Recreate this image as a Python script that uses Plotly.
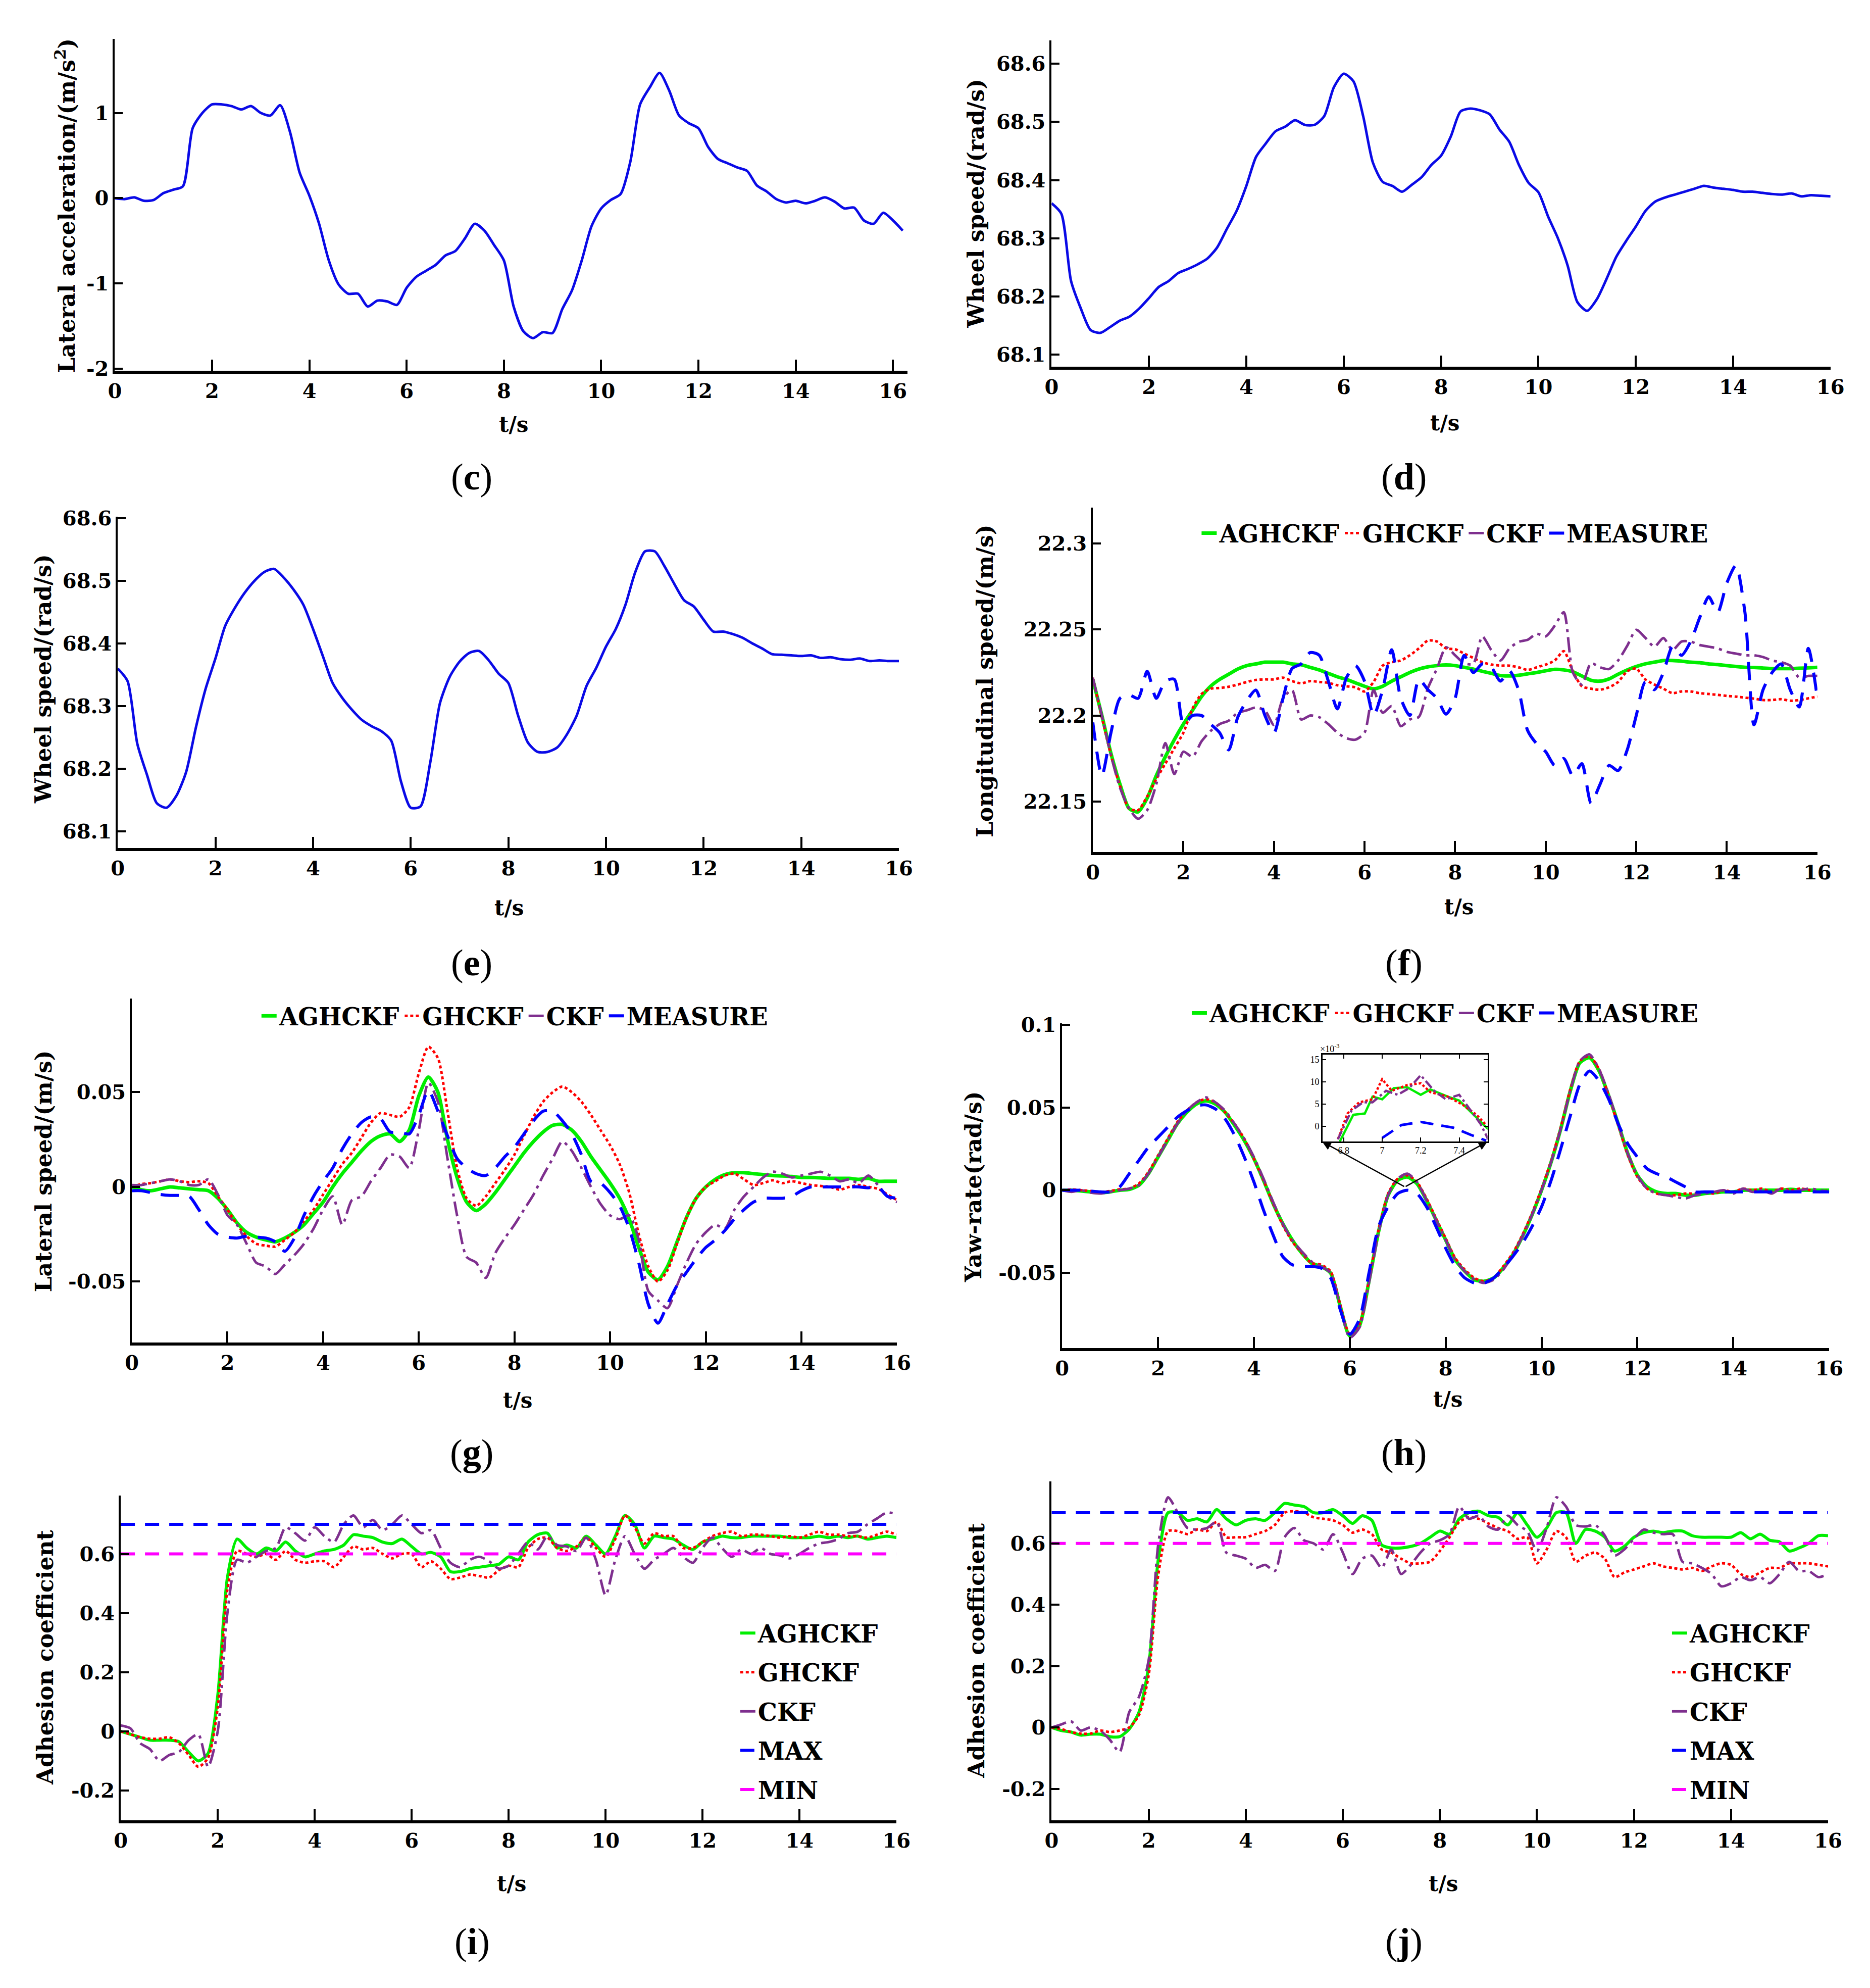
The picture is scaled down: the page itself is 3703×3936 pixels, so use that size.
import numpy as np
import plotly.graph_objects as go

# time grid (0.2 s steps)
t = np.round(np.arange(0, 16.01, 0.2), 1)
t_c = np.round(np.arange(0, 16.21, 0.2), 1)

# (c) lateral acceleration
acc_c = [0.0, -0.01, 0.01, -0.03, -0.02, 0.06, 0.1, 0.14, 0.82, 1.0,
         1.1, 1.1, 1.08, 1.04, 1.08, 1.0, 0.97, 1.09, 0.78, 0.3,
         0.03, -0.3, -0.73, -1.01, -1.12, -1.12, -1.27, -1.2, -1.21, -1.25,
         -1.05, -0.92, -0.85, -0.78, -0.67, -0.62, -0.47, -0.3, -0.38, -0.55,
         -0.73, -1.27, -1.56, -1.64, -1.57, -1.58, -1.3, -1.08, -0.73, -0.33,
         -0.12, -0.02, 0.05, 0.43, 1.1, 1.3, 1.47, 1.26, 0.97, 0.88,
         0.82, 0.6, 0.46, 0.41, 0.36, 0.32, 0.15, 0.08, -0.01, -0.05,
         -0.03, -0.06, -0.03, 0.01, -0.04, -0.12, -0.11, -0.26, -0.3, -0.17,
         -0.26, -0.38]

# (d) wheel speed
wheel_d = [68.36, 68.342, 68.226, 68.179, 68.142, 68.137, 68.147, 68.158, 68.165, 68.179,
           68.197, 68.216, 68.226, 68.24, 68.247, 68.255, 68.265, 68.284, 68.316, 68.347,
           68.39, 68.44, 68.463, 68.484, 68.492, 68.503, 68.495, 68.495, 68.51, 68.56,
           68.583, 68.57, 68.51, 68.43, 68.397, 68.39, 68.38, 68.392, 68.405, 68.426,
           68.442, 68.475, 68.518, 68.523, 68.52, 68.513, 68.487, 68.466, 68.426, 68.395,
           68.379, 68.337, 68.3, 68.253, 68.19, 68.175, 68.195, 68.23, 68.268, 68.295,
           68.32, 68.347, 68.363, 68.37, 68.375, 68.38, 68.385, 68.39, 68.387, 68.385,
           68.383, 68.38, 68.38, 68.378, 68.376, 68.375, 68.377, 68.372, 68.374, 68.373,
           68.372]

# (e) wheel speed
wheel_e = [68.36, 68.34, 68.24, 68.19, 68.145, 68.138, 68.157, 68.195, 68.266, 68.328,
           68.376, 68.428, 68.457, 68.481, 68.5, 68.514, 68.519, 68.505, 68.486, 68.462,
           68.423, 68.38, 68.337, 68.313, 68.294, 68.278, 68.268, 68.26, 68.245, 68.18,
           68.138, 68.14, 68.21, 68.305, 68.347, 68.371, 68.385, 68.388, 68.373, 68.352,
           68.337, 68.285, 68.242, 68.227, 68.227, 68.234, 68.255, 68.285, 68.332, 68.361,
           68.395, 68.423, 68.462, 68.514, 68.547, 68.547, 68.523, 68.495, 68.469, 68.459,
           68.438, 68.419, 68.419, 68.415, 68.409, 68.4, 68.392, 68.383, 68.382, 68.381,
           68.38, 68.381, 68.377, 68.378, 68.375, 68.374, 68.376, 68.372, 68.373, 68.372,
           68.372]

# (f) longitudinal speed
vx_agh = [22.221, 22.200, 22.178, 22.160, 22.146, 22.144, 22.152, 22.165, 22.176, 22.186,
          22.195, 22.203, 22.211, 22.217, 22.221, 22.224, 22.227, 22.229, 22.230, 22.231,
          22.231, 22.231, 22.230, 22.2295, 22.228, 22.2265, 22.2245, 22.2225, 22.221, 22.219,
          22.217, 22.2155, 22.217, 22.220, 22.2225, 22.225, 22.227, 22.2283, 22.229, 22.2294,
          22.229, 22.228, 22.227, 22.2257, 22.2245, 22.2232, 22.223, 22.2234, 22.2242, 22.225,
          22.226, 22.2268, 22.2265, 22.2254, 22.223, 22.2205, 22.220, 22.2213, 22.224, 22.2265,
          22.2285, 22.230, 22.231, 22.232, 22.232, 22.2316, 22.231, 22.2307, 22.230, 22.2296,
          22.229, 22.2285, 22.228, 22.2279, 22.2276, 22.2273, 22.2273, 22.2273, 22.2275, 22.2277,
          22.228]
vx_gh = [22.222, 22.199, 22.177, 22.159, 22.146, 22.145, 22.153, 22.163, 22.172, 22.181,
         22.190, 22.204, 22.2125, 22.2156, 22.216, 22.2167, 22.218, 22.2195, 22.2207, 22.221,
         22.221, 22.222, 22.220, 22.2187, 22.220, 22.2195, 22.219, 22.2176, 22.217, 22.2164,
         22.214, 22.2195, 22.229, 22.231, 22.232, 22.235, 22.239, 22.2436, 22.243, 22.239,
         22.2385, 22.236, 22.2335, 22.231, 22.2296, 22.229, 22.229, 22.228, 22.2265, 22.228,
         22.2296, 22.232, 22.2374, 22.2257, 22.217, 22.2156, 22.215, 22.2164, 22.2195, 22.2257,
         22.2273, 22.221, 22.218, 22.2156, 22.213, 22.214, 22.214, 22.213, 22.2125, 22.212,
         22.2114, 22.211, 22.2104, 22.2098, 22.209, 22.209, 22.2095, 22.2086, 22.209, 22.210,
         22.211]
vx_ckf = [22.222, 22.200, 22.177, 22.158, 22.146, 22.140, 22.145, 22.160, 22.184, 22.166,
          22.179, 22.176, 22.185, 22.191, 22.195, 22.197, 22.2016, 22.203, 22.2047, 22.203,
          22.1945, 22.210, 22.2148, 22.1977, 22.200, 22.199, 22.195, 22.190, 22.1868, 22.186,
          22.190, 22.2148, 22.2016, 22.2055, 22.1938, 22.1977, 22.1992, 22.216, 22.2273, 22.2397,
          22.235, 22.2304, 22.230, 22.246, 22.238, 22.232, 22.239, 22.2428, 22.244, 22.2475,
          22.246, 22.2522, 22.260, 22.225, 22.218, 22.2304, 22.228, 22.227, 22.232, 22.2405,
          22.2498, 22.2452, 22.240, 22.245, 22.238, 22.243, 22.243, 22.241, 22.240, 22.239,
          22.237, 22.236, 22.235, 22.235, 22.234, 22.232, 22.231, 22.229, 22.222, 22.223,
          22.223]
vx_meas = [22.196, 22.165, 22.190, 22.210, 22.212, 22.210, 22.2257, 22.210, 22.220, 22.221,
           22.195, 22.200, 22.200, 22.195, 22.190, 22.180, 22.199, 22.2086, 22.2148, 22.200,
           22.190, 22.210, 22.2273, 22.230, 22.2366, 22.235, 22.220, 22.2039, 22.222, 22.229,
           22.220, 22.200, 22.215, 22.2382, 22.210, 22.200, 22.221, 22.215, 22.210, 22.2008,
           22.210, 22.235, 22.225, 22.230, 22.228, 22.220, 22.226, 22.215, 22.1914, 22.1836,
           22.179, 22.171, 22.175, 22.165, 22.172, 22.149, 22.160, 22.171, 22.168, 22.180,
           22.200, 22.2195, 22.215, 22.225, 22.240, 22.235, 22.243, 22.2568, 22.269, 22.260,
           22.277, 22.2872, 22.260, 22.1946, 22.215, 22.225, 22.230, 22.215, 22.205, 22.239,
           22.210]

# (g) lateral speed
vy_agh = [0.0, -0.0015, -0.002, -0.001, 0.0, -0.0005, -0.001, -0.0015, -0.002, -0.006,
          -0.012, -0.019, -0.024, -0.0265, -0.028, -0.029, -0.027, -0.024, -0.020, -0.014,
          -0.008, 0.0, 0.007, 0.013, 0.019, 0.024, 0.027, 0.028, 0.024, 0.030,
          0.048, 0.058, 0.050, 0.025, 0.005, -0.008, -0.0125, -0.009, -0.003, 0.004,
          0.011, 0.018, 0.024, 0.029, 0.0325, 0.033, 0.030, 0.024, 0.016, 0.009,
          0.002, -0.006, -0.017, -0.032, -0.045, -0.049, -0.042, -0.029, -0.016, -0.006,
          0.0, 0.004, 0.0065, 0.0075, 0.0075, 0.007, 0.0065, 0.006, 0.0058, 0.0055,
          0.005, 0.005, 0.0048, 0.0045, 0.0045, 0.0045, 0.004, 0.0045, 0.003, 0.003,
          0.003]
vy_gh = [0.0, 0.0015, 0.002, 0.003, 0.004, 0.003, 0.0025, 0.003, 0.002, -0.005,
         -0.012, -0.020, -0.026, -0.030, -0.031, -0.0315, -0.028, -0.024, -0.018, -0.012,
         -0.004, 0.004, 0.012, 0.018, 0.026, 0.034, 0.039, 0.038, 0.037, 0.042,
         0.060, 0.074, 0.068, 0.040, 0.010, -0.006, -0.010, -0.005, 0.002, 0.009,
         0.017, 0.027, 0.037, 0.045, 0.050, 0.053, 0.050, 0.045, 0.038, 0.030,
         0.022, 0.012, -0.003, -0.025, -0.042, -0.050, -0.044, -0.030, -0.016, -0.006,
         0.0, 0.003, 0.006, 0.007, 0.004, 0.001, 0.002, 0.0035, 0.002, 0.003,
         0.002, 0.001, 0.0005, 0.0, -0.0015, 0.0, 0.001, 0.0, -0.001, -0.004,
         -0.007]
vy_ckf = [0.001, 0.001, 0.002, 0.003, 0.004, 0.003, 0.001, 0.001, 0.004, -0.004,
          -0.015, -0.020, -0.030, -0.040, -0.042, -0.046, -0.041, -0.036, -0.030, -0.022,
          -0.012, -0.005, -0.020, -0.007, -0.005, 0.003, 0.010, 0.017, 0.016, 0.010,
          0.030, 0.055, 0.045, 0.015, -0.015, -0.037, -0.040, -0.048, -0.035, -0.027,
          -0.020, -0.012, -0.004, 0.006, 0.015, 0.024, 0.019, 0.010, 0.0, -0.009,
          -0.015, -0.017, -0.015, -0.028, -0.055, -0.060, -0.064, -0.052, -0.040, -0.030,
          -0.024, -0.020, -0.022, -0.012, -0.005, 0.0, 0.005, 0.008, 0.007, 0.005,
          0.006, 0.007, 0.008, 0.006, 0.003, 0.004, 0.002, 0.006, 0.001, -0.005,
          -0.008]
vy_meas = [-0.002, -0.002, -0.003, -0.004, -0.0045, -0.0045, -0.005, -0.012, -0.020, -0.025,
           -0.0265, -0.027, -0.026, -0.0265, -0.027, -0.029, -0.034, -0.027, -0.015, -0.005,
           0.003, 0.010, 0.020, 0.028, 0.034, 0.037, 0.036, 0.029, 0.029, 0.028,
           0.038, 0.051, 0.040, 0.027, 0.015, 0.010, 0.007, 0.006, 0.010, 0.016,
           0.021, 0.028, 0.035, 0.040, 0.040, 0.035, 0.028, 0.017, 0.003, 0.002,
           -0.003, -0.010, -0.022, -0.040, -0.062, -0.072, -0.062, -0.052, -0.045, -0.038,
           -0.032, -0.028, -0.023, -0.017, -0.012, -0.008, -0.006, -0.006, -0.006, -0.005,
           -0.002, 0.0, 0.0, 0.0, 0.0, 0.0, 0.0, -0.0005, 0.0, -0.005,
           -0.006]

# (h) yaw rate
yaw_agh = [0.0, 0.0, -0.0005, -0.001, -0.0015, -0.001, 0.0, 0.0005, 0.003, 0.010,
           0.020, 0.030, 0.040, 0.047, 0.052, 0.054, 0.052, 0.047, 0.039, 0.030,
           0.019, 0.006, -0.008, -0.020, -0.030, -0.038, -0.044, -0.046, -0.050, -0.070,
           -0.088, -0.082, -0.055, -0.025, -0.003, 0.006, 0.008, 0.004, -0.006, -0.018,
           -0.030, -0.042, -0.049, -0.054, -0.055, -0.053, -0.047, -0.039, -0.028, -0.015,
           0.0, 0.017, 0.037, 0.060, 0.077, 0.080, 0.072, 0.057, 0.040, 0.022,
           0.009, 0.002, -0.001, -0.002, -0.002, -0.003, -0.003, -0.002, -0.0015, -0.001,
           -0.001, 0.0, 0.0, 0.0, 0.0, 0.0, 0.0005, 0.0, 0.0, 0.0,
           0.0]
yaw_gh = [0.0, 0.0005, 0.0, -0.0005, -0.001, -0.0005, 0.0005, 0.001, 0.004, 0.011,
          0.021, 0.031, 0.041, 0.048, 0.053, 0.055, 0.053, 0.047, 0.040, 0.031,
          0.019, 0.006, -0.008, -0.021, -0.031, -0.038, -0.044, -0.045, -0.049, -0.069,
          -0.087, -0.081, -0.054, -0.024, -0.002, 0.007, 0.009, 0.005, -0.005, -0.017,
          -0.029, -0.041, -0.048, -0.053, -0.055, -0.053, -0.046, -0.038, -0.027, -0.014,
          0.001, 0.018, 0.038, 0.061, 0.078, 0.081, 0.073, 0.057, 0.039, 0.021,
          0.008, 0.001, -0.002, -0.003, -0.003, -0.002, -0.002, -0.001, -0.002, 0.0,
          -0.001, 0.001, 0.0, 0.001, -0.001, 0.001, 0.0, 0.001, 0.0, -0.001,
          0.0]
yaw_ckf = [0.0, -0.001, 0.0, -0.0015, -0.002, -0.001, 0.0, 0.001, 0.003, 0.010,
           0.020, 0.030, 0.040, 0.048, 0.053, 0.056, 0.053, 0.048, 0.040, 0.031,
           0.020, 0.007, -0.007, -0.020, -0.030, -0.037, -0.043, -0.046, -0.050, -0.070,
           -0.089, -0.083, -0.056, -0.026, -0.003, 0.007, 0.010, 0.005, -0.006, -0.018,
           -0.030, -0.042, -0.049, -0.054, -0.056, -0.054, -0.048, -0.039, -0.028, -0.015,
           0.0, 0.017, 0.037, 0.060, 0.078, 0.082, 0.073, 0.058, 0.040, 0.022,
           0.009, 0.001, -0.002, -0.003, -0.004, -0.005, -0.003, -0.002, -0.001, 0.0,
           -0.002, 0.001, -0.001, 0.0, -0.002, 0.001, -0.001, 0.0, 0.001, 0.0,
           -0.001]
yaw_meas = [0.0, 0.0, 0.0, -0.0005, -0.001, -0.001, 0.002, 0.010, 0.018, 0.026,
            0.032, 0.038, 0.044, 0.048, 0.051, 0.0515, 0.049, 0.043, 0.033, 0.020,
            0.005, -0.012, -0.027, -0.040, -0.045, -0.046, -0.046, -0.047, -0.053, -0.072,
            -0.087, -0.078, -0.050, -0.022, -0.010, -0.002, 0.0, -0.002, -0.010, -0.022,
            -0.035, -0.046, -0.053, -0.056, -0.056, -0.053, -0.047, -0.040, -0.032, -0.022,
            -0.010, 0.006, 0.025, 0.045, 0.064, 0.072, 0.066, 0.055, 0.040, 0.028,
            0.020, 0.013, 0.010, 0.008, 0.005, 0.002, -0.001, -0.001, -0.001, -0.001,
            -0.001, -0.001, -0.001, -0.001, -0.001, -0.001, -0.001, -0.001, -0.001, -0.001,
            -0.001]

# (h) zoomed inset, values in 1e-3 rad/s
ins_t_agh = [6.78, 6.85, 6.91, 6.95, 7.0, 7.06, 7.13, 7.2, 7.25, 7.34, 7.4, 7.46, 7.55]
ins_agh = [-3.4, 2.6, 2.9, 6.7, 6.1, 8.6, 8.8, 7.1, 8.3, 6.7, 5.8, 3.2, -0.6]
ins_t_gh = [6.77, 6.82, 6.88, 6.95, 7.0, 7.05, 7.13, 7.2, 7.25, 7.34, 7.42, 7.49, 7.54]
ins_gh = [-2.9, 2.9, 5.4, 6.1, 10.6, 8.0, 9.3, 9.7, 7.7, 6.7, 4.8, 2.6, 0.3]
ins_t_ckf = [6.77, 6.84, 6.9, 6.95, 7.02, 7.08, 7.14, 7.2, 7.27, 7.33, 7.4, 7.45, 7.51, 7.55]
ins_ckf = [-2.9, 3.5, 5.4, 5.4, 8.0, 7.1, 8.6, 11.5, 8.0, 6.1, 7.1, 4.2, 0.6, -2.9]
ins_t_meas = [7.0, 7.1, 7.2, 7.3, 7.37, 7.46, 7.54]
ins_meas = [-2.6, 0.3, 1.0, 0.3, -0.3, -1.9, -3.2]

# (i) adhesion coefficient
mu_i_agh = [0.0, -0.01, -0.02, -0.03, -0.03, -0.03, -0.035, -0.07, -0.10, -0.075,
            0.12, 0.52, 0.65, 0.62, 0.60, 0.62, 0.61, 0.64, 0.61, 0.59,
            0.60, 0.61, 0.615, 0.63, 0.665, 0.66, 0.655, 0.64, 0.635, 0.65,
            0.625, 0.60, 0.605, 0.59, 0.54, 0.54, 0.55, 0.555, 0.56, 0.565,
            0.59, 0.58, 0.64, 0.665, 0.67, 0.62, 0.63, 0.62, 0.66, 0.63,
            0.60, 0.66, 0.73, 0.70, 0.62, 0.66, 0.655, 0.65, 0.63, 0.615,
            0.64, 0.65, 0.66, 0.655, 0.655, 0.66, 0.66, 0.66, 0.66, 0.655,
            0.655, 0.655, 0.66, 0.655, 0.66, 0.655, 0.66, 0.65, 0.655, 0.66,
            0.655]
mu_i_gh = [0.0, -0.01, -0.02, -0.025, -0.025, -0.02, -0.04, -0.08, -0.12, -0.09,
           0.08, 0.48, 0.61, 0.60, 0.59, 0.60, 0.58, 0.61, 0.58, 0.57,
           0.575, 0.575, 0.555, 0.59, 0.625, 0.615, 0.62, 0.60, 0.585, 0.60,
           0.60, 0.555, 0.575, 0.55, 0.515, 0.52, 0.53, 0.525, 0.52, 0.545,
           0.56, 0.555, 0.62, 0.65, 0.655, 0.62, 0.61, 0.625, 0.655, 0.62,
           0.59, 0.65, 0.73, 0.69, 0.635, 0.67, 0.66, 0.66, 0.62, 0.62,
           0.64, 0.66, 0.67, 0.675, 0.66, 0.665, 0.665, 0.66, 0.655, 0.66,
           0.655, 0.665, 0.675, 0.665, 0.665, 0.66, 0.66, 0.655, 0.665, 0.675,
           0.665]
mu_i_ckf = [0.02, 0.01, -0.04, -0.06, -0.10, -0.08, -0.07, -0.03, -0.01, -0.12,
            0.0, 0.40, 0.58, 0.57, 0.59, 0.61, 0.62, 0.69, 0.67, 0.645,
            0.69, 0.66, 0.64, 0.70, 0.73, 0.69, 0.715, 0.68, 0.70, 0.73,
            0.70, 0.67, 0.68, 0.62, 0.57, 0.555, 0.58, 0.59, 0.575, 0.55,
            0.56, 0.60, 0.64, 0.615, 0.66, 0.63, 0.625, 0.61, 0.655, 0.58,
            0.46, 0.58, 0.66, 0.60, 0.55, 0.58, 0.60, 0.62, 0.59, 0.57,
            0.62, 0.655, 0.62, 0.59, 0.615, 0.60, 0.62, 0.60, 0.595, 0.585,
            0.60, 0.62, 0.635, 0.64, 0.65, 0.67, 0.675, 0.70, 0.72, 0.74,
            0.735]

# (j) adhesion coefficient
mu_j_agh = [0.0, -0.01, -0.015, -0.025, -0.022, -0.022, -0.03, -0.03, -0.005, 0.05,
            0.20, 0.55, 0.70, 0.70, 0.675, 0.68, 0.67, 0.71, 0.68, 0.66,
            0.675, 0.68, 0.675, 0.70, 0.73, 0.725, 0.72, 0.70, 0.70, 0.71,
            0.69, 0.665, 0.69, 0.675, 0.595, 0.585, 0.585, 0.59, 0.60, 0.62,
            0.64, 0.63, 0.68, 0.70, 0.705, 0.69, 0.685, 0.66, 0.70, 0.66,
            0.62, 0.65, 0.70, 0.70, 0.60, 0.645, 0.64, 0.62, 0.575, 0.59,
            0.62, 0.635, 0.64, 0.635, 0.64, 0.64, 0.625, 0.62, 0.62, 0.62,
            0.62, 0.635, 0.615, 0.63, 0.61, 0.605, 0.575, 0.585, 0.60, 0.625,
            0.625]
mu_j_gh = [0.0, -0.005, -0.015, -0.02, -0.02, -0.01, -0.015, -0.01, 0.0, 0.04,
           0.17, 0.50, 0.64, 0.64, 0.63, 0.645, 0.64, 0.67, 0.62, 0.62,
           0.62, 0.63, 0.64, 0.66, 0.70, 0.705, 0.70, 0.685, 0.68, 0.675,
           0.66, 0.635, 0.645, 0.63, 0.58, 0.57, 0.55, 0.535, 0.535, 0.54,
           0.575, 0.62, 0.67, 0.685, 0.68, 0.665, 0.65, 0.64, 0.615, 0.62,
           0.535, 0.58, 0.64, 0.62, 0.54, 0.56, 0.57, 0.55, 0.49, 0.505,
           0.515, 0.525, 0.535, 0.525, 0.52, 0.515, 0.52, 0.51, 0.525, 0.535,
           0.53, 0.50, 0.49, 0.505, 0.52, 0.52, 0.535, 0.535, 0.535, 0.53,
           0.525]
mu_j_ckf = [0.0, 0.01, 0.02, -0.01, 0.0, -0.01, -0.04, -0.08, 0.05, 0.10,
            0.22, 0.60, 0.75, 0.70, 0.65, 0.645, 0.65, 0.67, 0.57, 0.56,
            0.55, 0.52, 0.53, 0.51, 0.62, 0.65, 0.61, 0.60, 0.58, 0.63,
            0.57, 0.50, 0.55, 0.56, 0.52, 0.58, 0.50, 0.53, 0.57, 0.60,
            0.61, 0.63, 0.72, 0.68, 0.69, 0.655, 0.645, 0.69, 0.66, 0.64,
            0.575, 0.65, 0.75, 0.72, 0.66, 0.655, 0.66, 0.625, 0.56, 0.58,
            0.615, 0.645, 0.635, 0.63, 0.63, 0.54, 0.535, 0.52, 0.50, 0.46,
            0.47, 0.49, 0.48, 0.49, 0.47, 0.50, 0.54, 0.51, 0.51, 0.49,
            0.50]

mu_max = 0.7
mu_min = 0.6
t_span = [0, 16]

for arr in [wheel_d, wheel_e, vx_agh, vx_gh, vx_ckf, vx_meas, vy_agh, vy_gh, vy_ckf, vy_meas,
            yaw_agh, yaw_gh, yaw_ckf, yaw_meas, mu_i_agh, mu_i_gh, mu_i_ckf,
            mu_j_agh, mu_j_gh, mu_j_ckf]:
    assert len(arr) == len(t), len(arr)
assert len(acc_c) == len(t_c)

GREEN = '#00EE00'
RED = '#FF0000'
PURPLE = '#7E2F8E'
BLUE = '#0000FF'
MAGENTA = '#FF00FF'
SERIF = 'Liberation Serif'
WIDE = 'DejaVu Serif'

fig = go.Figure()


def add(n, x, y, color, width, dash='solid', name=None, legend=None, shape='spline'):
    fig.add_trace(go.Scatter(
        x=x, y=y, mode='lines',
        xaxis='x' if n == 1 else f'x{n}', yaxis='y' if n == 1 else f'y{n}',
        line=dict(color=color, width=width, dash=dash, shape=shape, smoothing=0.7),
        name=name, showlegend=name is not None,
        legend=legend, legendgroup=f'{legend}-{name}'))


DASH_M = '36px,22px'
DASH_C = '30px,10px,6px,10px'
DOT = '6px,5px'

add(1, t_c, acc_c, '#0A0AE6', 5)
add(2, t, wheel_d, '#0A0AE6', 5)
add(3, t, wheel_e, '#0A0AE6', 5)

for n, leg, a, g, c, m in [(4, 'legend', vx_agh, vx_gh, vx_ckf, vx_meas),
                           (5, 'legend2', vy_agh, vy_gh, vy_ckf, vy_meas),
                           (6, 'legend3', yaw_agh, yaw_gh, yaw_ckf, yaw_meas)]:
    add(n, t, a, GREEN, 7, name='AGHCKF', legend=leg)
    add(n, t, g, RED, 5, DOT, name='GHCKF', legend=leg)
    add(n, t, c, PURPLE, 5, DASH_C, name='CKF', legend=leg)
    add(n, t, m, BLUE, 6, DASH_M, name='MEASURE', legend=leg)

for n, leg, a, g, c in [(7, 'legend4', mu_i_agh, mu_i_gh, mu_i_ckf),
                        (8, 'legend5', mu_j_agh, mu_j_gh, mu_j_ckf)]:
    add(n, t, a, GREEN, 6, name='AGHCKF', legend=leg)
    add(n, t, g, RED, 5, DOT, name='GHCKF', legend=leg)
    add(n, t, c, PURPLE, 5, DASH_C, name='CKF', legend=leg)
    add(n, t_span, [mu_max, mu_max], BLUE, 6, '28px,20px', name='MAX', legend=leg, shape='linear')
    add(n, t_span, [mu_min, mu_min], MAGENTA, 6, '28px,20px', name='MIN', legend=leg, shape='linear')

# inset
add(9, ins_t_agh, ins_agh, GREEN, 4.5, shape='linear')
add(9, ins_t_gh, ins_gh, RED, 4.5, '5px,4px', shape='linear')
add(9, ins_t_ckf, ins_ckf, PURPLE, 4.5, '18px,6px,5px,6px', shape='linear')
add(9, ins_t_meas, ins_meas, BLUE, 5, '26px,16px', shape='linear')

TICKFONT = dict(family=WIDE, size=40, color='black', weight='bold')


def xax(dom, anchor, rng):
    return dict(domain=dom, anchor=anchor, range=rng,
                tickvals=list(range(0, 17, 2)), ticktext=[str(v) for v in range(0, 17, 2)],
                ticks='inside', ticklen=22, tickwidth=4, tickcolor='black',
                showline=True, linewidth=6, linecolor='black',
                showgrid=False, zeroline=False, tickfont=TICKFONT)


def yax(dom, anchor, rng, vals, texts):
    return dict(domain=dom, anchor=anchor, range=rng, tickvals=vals, ticktext=texts,
                ticks='inside', ticklen=16, tickwidth=4, tickcolor='black',
                showline=True, linewidth=4, linecolor='black',
                showgrid=False, zeroline=False, tickfont=TICKFONT)


ws = [68.1, 68.2, 68.3, 68.4, 68.5, 68.6]
ws_txt = ['68.1', '68.2', '68.3', '68.4', '68.5', '68.6']
mu_vals = [-0.2, 0, 0.2, 0.4, 0.6]
mu_txt = ['-0.2', '0', '0.2', '0.4', '0.6']
INSET_FONT = dict(family=SERIF, size=18, color='black')

layout = dict(
    xaxis=xax([0.0561, 0.4849], 'y', [0, 16.3]),
    yaxis=yax([0.8191, 0.9876], 'x', [-2.02, 1.866], [-2, -1, 0, 1], ['-2', '-1', '0', '1']),
    xaxis2=xax([0.5628, 0.9841], 'y2', [0, 16]),
    yaxis2=yax([0.8211, 0.9868], 'x2', [68.079, 68.64], ws, ws_txt),
    xaxis3=xax([0.0577, 0.4802], 'y3', [0, 16]),
    yaxis3=yax([0.5765, 0.7447], 'x3', [68.074, 68.602], ws, ws_txt),
    xaxis4=xax([0.5851, 0.977], 'y4', [0, 16]),
    yaxis4=yax([0.5742, 0.7493], 'x4', [22.1205, 22.3207], [22.15, 22.2, 22.25, 22.3],
               ['22.15', '22.2', '22.25', '22.3']),
    xaxis5=xax([0.0653, 0.4792], 'y5', [0, 16]),
    yaxis5=yax([0.3251, 0.4998], 'x5', [-0.0821, 0.0994], [-0.05, 0, 0.05], ['-0.05', '0', '0.05']),
    xaxis6=xax([0.5685, 0.9834], 'y6', [0, 16]),
    yaxis6=yax([0.3223, 0.4873], 'x6', [-0.0952, 0.1008], [-0.05, 0, 0.05, 0.1],
               ['-0.05', '0', '0.05', '0.1']),
    xaxis7=xax([0.0593, 0.4789], 'y7', [0, 16]),
    yaxis7=yax([0.0822, 0.2473], 'x7', [-0.3006, 0.7977], mu_vals, mu_txt),
    xaxis8=xax([0.5628, 0.9828], 'y8', [0, 16]),
    yaxis8=yax([0.0822, 0.2545], 'x8', [-0.3023, 0.8024], mu_vals, mu_txt),
    xaxis9=dict(domain=[0.7093, 0.7986], anchor='y9', range=[6.69, 7.547],
                tickvals=[6.8, 7, 7.2, 7.4], ticktext=['6.8', '7', '7.2', '7.4'],
                ticks='inside', ticklen=8, tickwidth=2, mirror='ticks',
                showline=True, linewidth=2.5, linecolor='black', tickcolor='black',
                showgrid=False, zeroline=False, tickfont=INSET_FONT),
    yaxis9=dict(domain=[0.4272, 0.4713], anchor='x9', range=[-3.4, 16.1],
                tickvals=[0, 5, 10, 15], ticktext=['0', '5', '10', '15'],
                ticks='inside', ticklen=8, tickwidth=2, mirror='ticks',
                showline=True, linewidth=2.5, linecolor='black', tickcolor='black',
                showgrid=False, zeroline=False, tickfont=INSET_FONT),
)

LEGFONT = dict(family=WIDE, size=48, color='black', weight='bold')


def hleg(x, y):
    return dict(x=x, y=y, xanchor='center', yanchor='middle', orientation='h',
                bgcolor='rgba(0,0,0,0)', font=LEGFONT, itemwidth=30, tracegroupgap=0)


def vleg(x, y):
    return dict(x=x, y=y, xanchor='left', yanchor='top', orientation='v',
                bgcolor='rgba(0,0,0,0)', font=LEGFONT, itemwidth=30, tracegroupgap=12)


annotations = []
YT = dict(family=WIDE, size=44, color='black', weight='bold')
for x, y, txt in [(0.0293, 0.9028, 'Lateral acceleration/(m/s<sup>2</sup>)'),
                  (0.5219, 0.904, 'Wheel speed/(rad/s)'),
                  (0.0175, 0.6624, 'Wheel speed/(rad/s)'),
                  (0.5267, 0.6612, 'Longitudinal speed/(m/s)'),
                  (0.0175, 0.412, 'Lateral speed/(m/s)'),
                  (0.5203, 0.4043, 'Yaw-rate(rad/s)'),
                  (0.0185, 0.165, 'Adhesion coefficient'),
                  (0.5219, 0.1684, 'Adhesion coefficient')]:
    annotations.append(dict(x=x, y=y, xref='paper', yref='paper', text=txt, textangle=-90,
                            showarrow=False, xanchor='center', yanchor='middle', font=YT))

XT = dict(family=WIDE, size=42, color='black', weight='bold')
for x, y in [(0.2718, 0.7916), (0.7756, 0.7924), (0.2692, 0.546), (0.783, 0.5465),
             (0.274, 0.2956), (0.7772, 0.2962), (0.2708, 0.05), (0.7747, 0.05)]:
    annotations.append(dict(x=x, y=y, xref='paper', yref='paper', text='t/s',
                            showarrow=False, xanchor='center', yanchor='middle', font=XT))

PL = dict(family=SERIF, size=74, color='black')
for x, y, letter in [(0.2491, 0.7651, 'c'), (0.7533, 0.7651, 'd'),
                     (0.2491, 0.518, 'e'), (0.7533, 0.518, 'f'),
                     (0.2491, 0.269, 'g'), (0.7533, 0.269, 'h'),
                     (0.2495, 0.0206, 'i'), (0.7533, 0.0206, 'j')]:
    annotations.append(dict(x=x, y=y, xref='paper', yref='paper', text=f'(<b>{letter}</b>)',
                            showarrow=False, xanchor='center', yanchor='middle', font=PL))

annotations.append(dict(x=0.7134, y=0.4747, xref='paper', yref='paper', text='×10<sup>-3</sup>',
                        showarrow=False, xanchor='center', yanchor='middle', font=INSET_FONT))
for cx in [5.425, 8.87]:
    annotations.append(dict(x=cx, y=0.0293, xref='x6', yref='y6', ax=7.15, ay=0.002,
                            axref='x6', ayref='y6', showarrow=True, arrowhead=2,
                            arrowsize=1.4, arrowwidth=2.5, arrowcolor='black', text=''))

fig.update_layout(
    **layout,
    legend=hleg(0.7809, 0.7364),
    legend2=hleg(0.2724, 0.491),
    legend3=hleg(0.7756, 0.4925),
    legend4=vleg(0.393, 0.187),
    legend5=vleg(0.897, 0.187),
    annotations=annotations,
    width=3703, height=3936,
    margin=dict(l=0, r=0, t=0, b=0),
    paper_bgcolor='white', plot_bgcolor='white',
    font=dict(family=SERIF, color='black'),
)

fig.write_html("out.html")
